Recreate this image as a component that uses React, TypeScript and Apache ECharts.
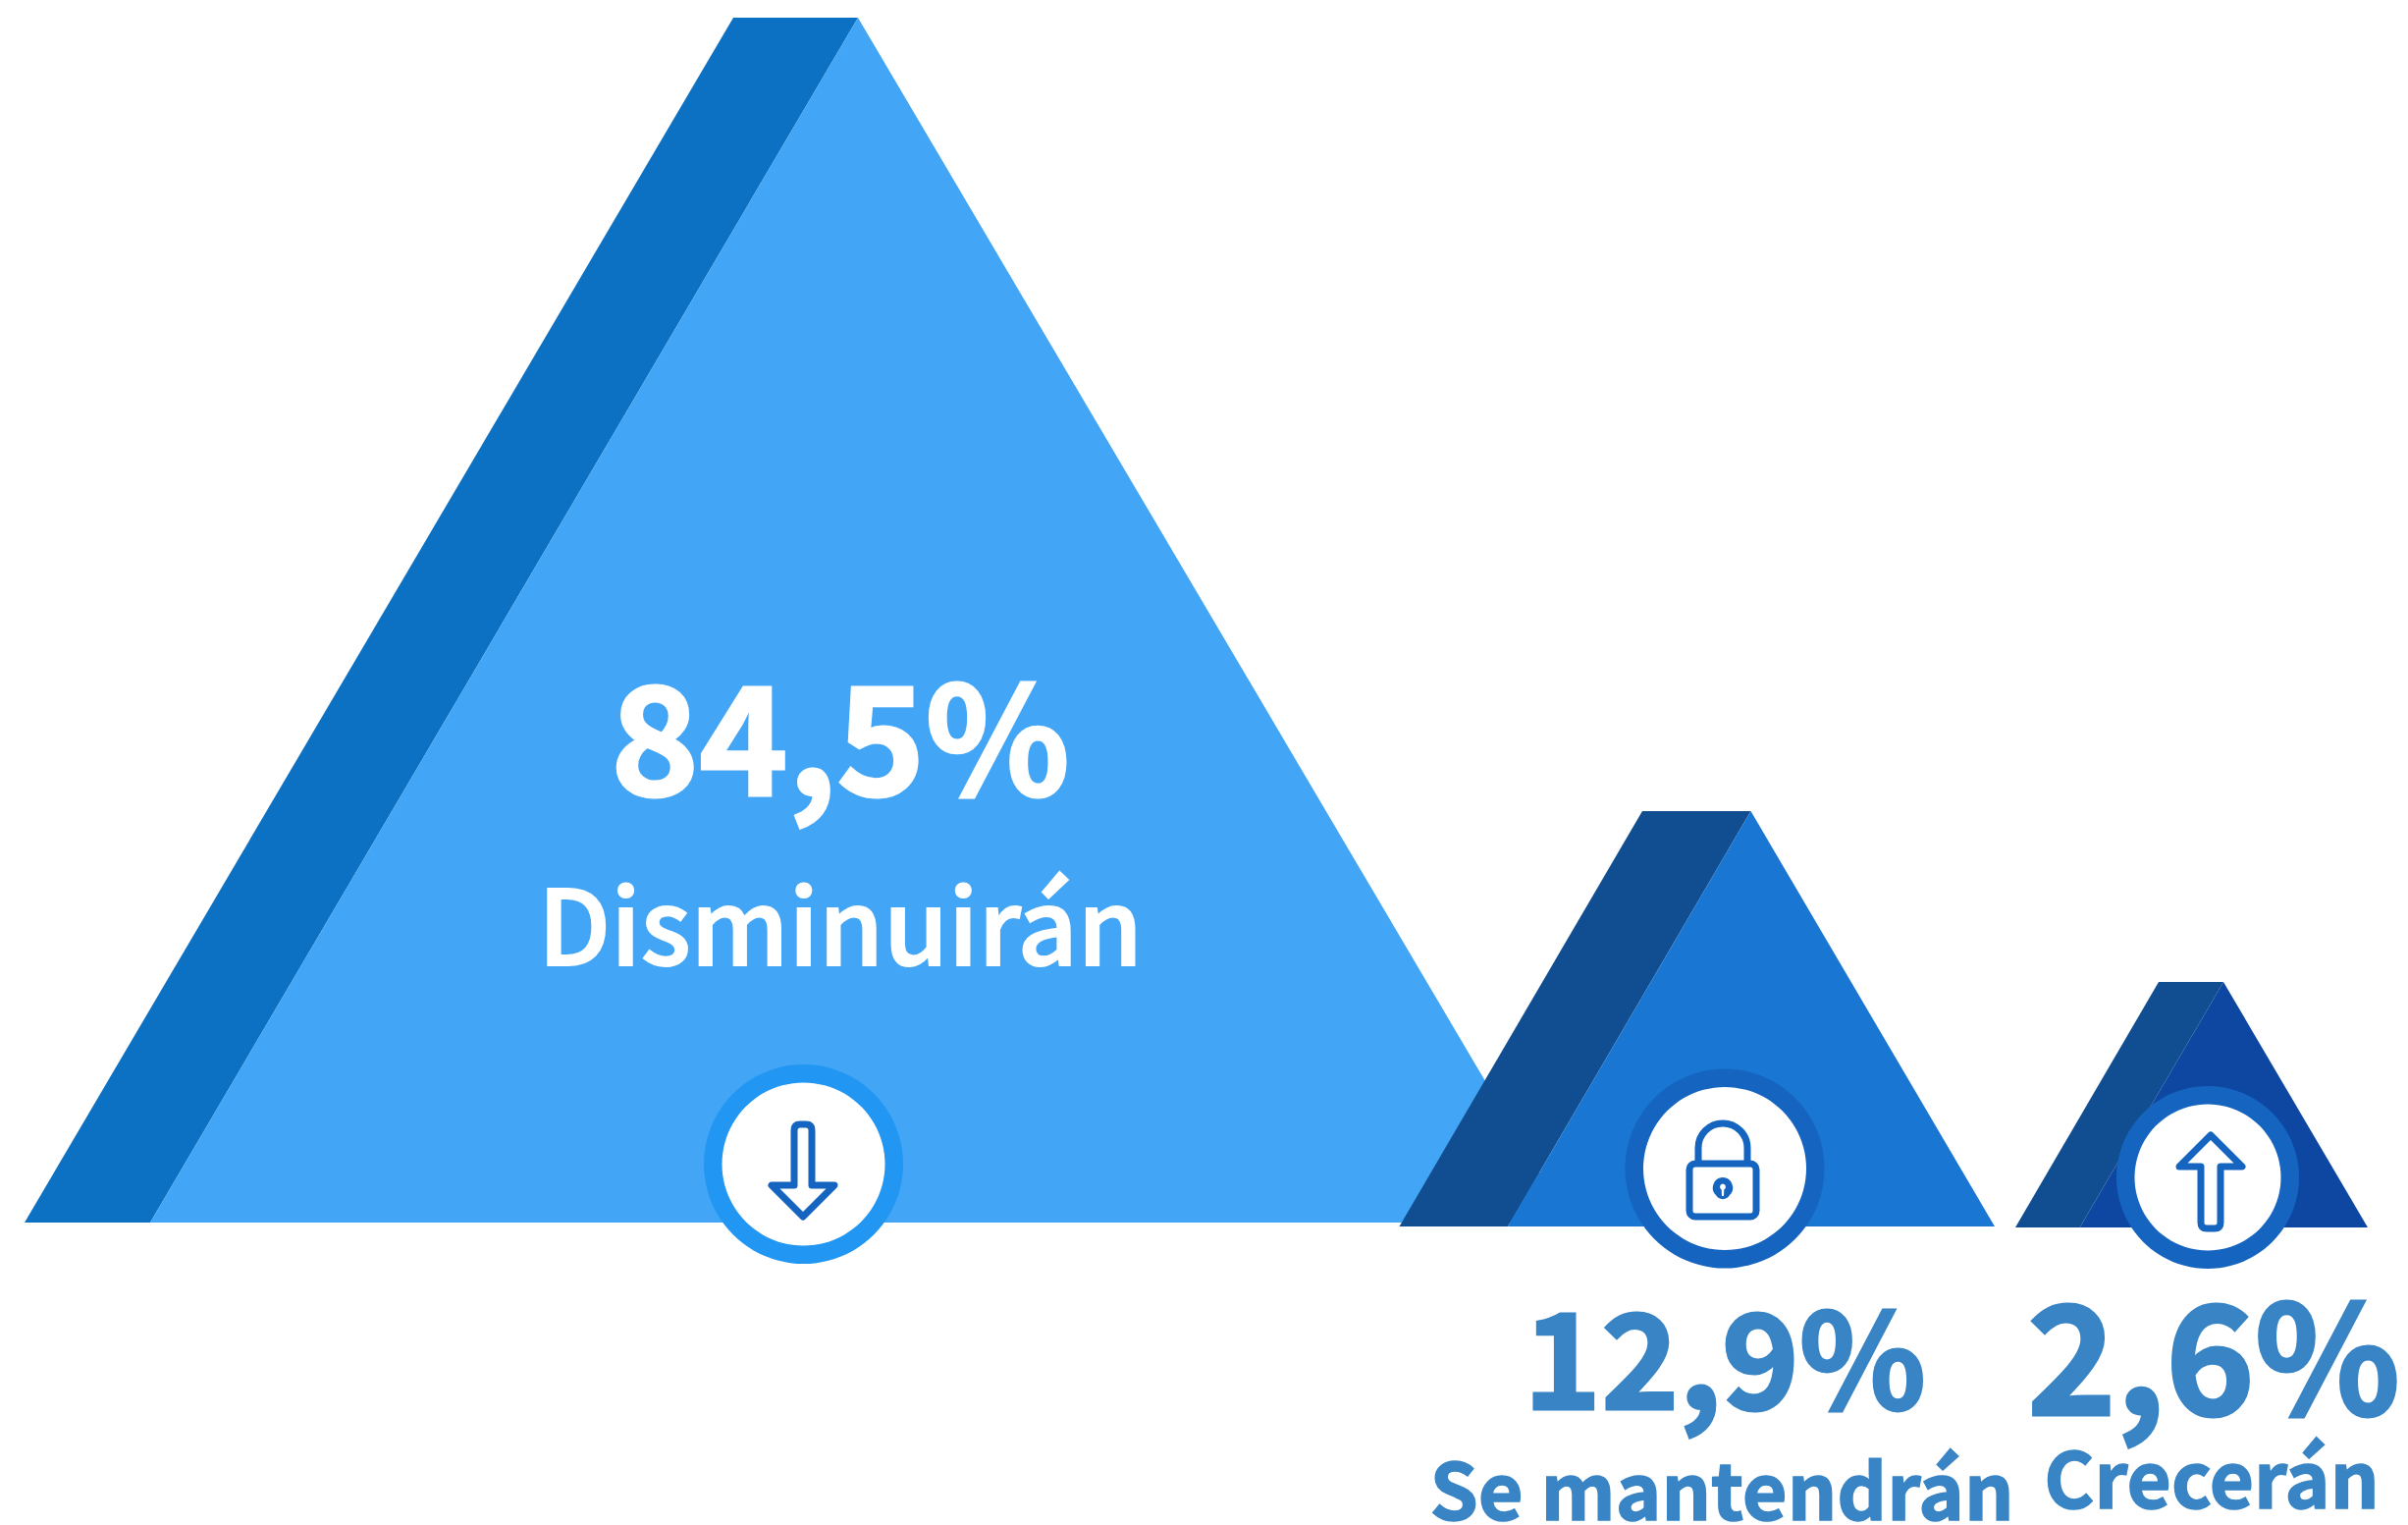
import React, { useEffect, useRef } from "react";
import * as echarts from "echarts";

const categories = ["Disminuirán", "Se mantendrán", "Crecerán"];
const values = [84.5, 12.9, 2.6];

const W = 2453;
const H = 1553;
const FONT = '"Noto Sans CJK SC", "Noto Sans", sans-serif';
const TEXT_BLUE = "#3884C5";

echarts.graphic.registerShape(
  "iconDown",
  echarts.graphic.extendPath(
    "M-9 23 L-9 -33 Q-9 -39 -3 -39 L3 -39 Q9 -39 9 -33 L9 23 L32 23 L0 55 L-32 23 Z",
    {}
  )
);
echarts.graphic.registerShape(
  "iconUp",
  echarts.graphic.extendPath(
    "M-10 46 L-10 -11 L-32 -11 L0 -43 L32 -11 L10 -11 L10 46 Q10 52 4 52 L-4 52 Q-10 52 -10 46 Z",
    {}
  )
);
echarts.graphic.registerShape(
  "iconLock",
  echarts.graphic.extendPath(
    "M-28 -4 L28 -4 A6 6 0 0 1 34 2 L34 44 A6 6 0 0 1 28 50 L-28 50 A6 6 0 0 1 -34 44 L-34 2 A6 6 0 0 1 -28 -4 Z M-25 -4 L-25 -20 A25 25 0 0 1 25 -20 L25 -4",
    {}
  )
);
echarts.graphic.registerShape(
  "iconKey",
  echarts.graphic.extendPath(
    "M0 10 A10.5 10.5 0 0 1 7 28 A8 8 0 0 1 -7 28 A10.5 10.5 0 0 1 0 10 Z",
    {}
  )
);
echarts.graphic.registerShape(
  "iconKeyHole",
  echarts.graphic.extendPath(
    "M0 16.5 A3.2 3.2 0 0 1 1.3 22.5 L1 29 L-1 29 L-1.3 22.5 A3.2 3.2 0 0 1 0 16.5 Z",
    {}
  )
);

const layout = [
  {
    baseY: 1245, apexY: 18, outerL: 25, innerL: 153, topL: 747, apexX: 874, right: 1598,
    front: "#42A5F5", side: "#0C71C3", ring: "#2196F3",
    cx: 818.5, cy: 1185.5, rOuter: 101.5, rInner: 83, icon: "iconDown", iconX: 818, iconY: 1184,
    textColor: "#FFFFFF",
    pctX: 856, pctY: 743, pctSize: 153, pctStroke: 3,
    nameX: 856, nameY: 937, nameSize: 106, nameWeight: 500, nameStroke: 2,
  },
  {
    baseY: 1249, apexY: 826, outerL: 1425.5, innerL: 1536, topL: 1673, apexX: 1783.5, right: 2032,
    front: "#1976D2", side: "#114E91", ring: "#1565C0",
    cx: 1757, cy: 1190, rOuter: 101.5, rInner: 83, icon: "iconLock", iconX: 1755, iconY: 1189,
    textColor: TEXT_BLUE,
    pctX: 1757, pctY: 1377, pctSize: 134, pctStroke: 3,
    nameX: 1754, nameY: 1513, nameSize: 79, nameWeight: 700, nameStroke: 1.5,
  },
  {
    baseY: 1250, apexY: 1000, outerL: 2053, innerL: 2118.6, topL: 2199, apexX: 2265, right: 2412,
    front: "#0D47A1", side: "#114E91", ring: "#1565C0",
    cx: 2249, cy: 1199, rOuter: 93, rInner: 74.5, icon: "iconUp", iconX: 2252, iconY: 1199,
    textColor: TEXT_BLUE,
    pctX: 2255, pctY: 1373, pctSize: 154, pctStroke: 3,
    nameX: 2253, nameY: 1502, nameSize: 78, nameWeight: 700, nameStroke: 1.5,
  },
];

function renderItem(params: any, api: any) {
  const i = params.dataIndex;
  const value = api.value(1) as number;
  const L = layout[i];
  const pt = (x: number, y: number) => api.coord([x, y]);
  const pctText = value.toFixed(1).replace(".", ",") + "%";
  const center = pt(L.cx, L.cy);
  const iconPos = pt(L.iconX, L.iconY);
  const pctPos = pt(L.pctX, L.pctY);
  const namePos = pt(L.nameX, L.nameY);

  const iconChildren: any[] = [
    {
      type: L.icon,
      style: { fill: "none", stroke: "#1565C0", lineWidth: 7, lineJoin: "round", lineCap: "round" },
    },
  ];
  if (L.icon === "iconLock") {
    iconChildren.push(
      { type: "iconKey", style: { fill: "#1565C0", stroke: "none" } },
      { type: "iconKeyHole", style: { fill: "#FFFFFF", stroke: "none" } }
    );
  }

  return {
    type: "group",
    children: [
      {
        type: "polygon",
        shape: { points: [pt(L.outerL, L.baseY), pt(L.innerL, L.baseY), pt(L.apexX, L.apexY), pt(L.topL, L.apexY)] },
        style: { fill: L.side },
      },
      {
        type: "polygon",
        shape: { points: [pt(L.innerL, L.baseY), pt(L.apexX, L.apexY), pt(L.right, L.baseY)] },
        style: { fill: L.front },
      },
      { type: "circle", shape: { cx: center[0], cy: center[1], r: L.rOuter }, style: { fill: L.ring } },
      { type: "circle", shape: { cx: center[0], cy: center[1], r: L.rInner }, style: { fill: "#FFFFFF" } },
      { type: "group", x: iconPos[0], y: iconPos[1], children: iconChildren },
      {
        type: "text",
        x: pctPos[0],
        y: pctPos[1],
        style: {
          text: pctText,
          font: `700 ${L.pctSize}px ${FONT}`,
          fill: L.textColor,
          stroke: L.textColor,
          lineWidth: L.pctStroke,
          align: "center",
          verticalAlign: "middle",
        },
      },
      {
        type: "text",
        x: namePos[0],
        y: namePos[1],
        style: {
          text: categories[i],
          font: `${L.nameWeight} ${L.nameSize}px ${FONT}`,
          fill: L.textColor,
          stroke: L.textColor,
          lineWidth: L.nameStroke,
          align: "center",
          verticalAlign: "middle",
        },
      },
    ],
  };
}

export default function App() {
  const ref = useRef<HTMLDivElement>(null);
  useEffect(() => {
    const chart = echarts.init(ref.current!, null, { renderer: "svg" });
    chart.setOption({
      animation: false,
      backgroundColor: "#FFFFFF",
      grid: { left: 0, right: 0, top: 0, bottom: 0 },
      xAxis: { type: "value", min: 0, max: W, show: false },
      yAxis: { type: "value", min: 0, max: H, inverse: true, show: false },
      series: [
        {
          type: "custom",
          coordinateSystem: "cartesian2d",
          clip: false,
          silent: true,
          renderItem,
          data: values.map((v, i) => [i, v]),
        },
      ],
    });
    return () => chart.dispose();
  }, []);
  return (
    <div
      ref={ref}
      style={{ position: "absolute", left: 0, top: 0, width: W, height: H }}
    />
  );
}
